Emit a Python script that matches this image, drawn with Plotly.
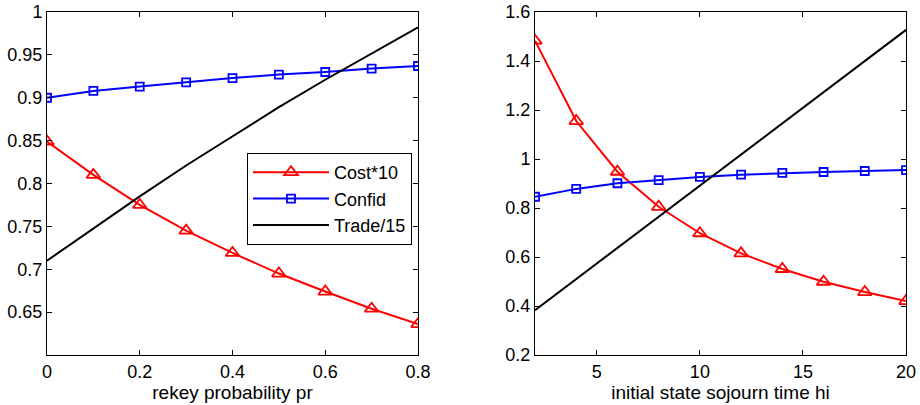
import plotly.graph_objects as go
from plotly.subplots import make_subplots

# Left panel: sweep over rekey probability
pr = [0, 0.1, 0.2, 0.3, 0.4, 0.5, 0.6, 0.7, 0.8]
cost_pr = [0.849, 0.810, 0.775, 0.745, 0.719, 0.695, 0.674, 0.654, 0.636]
confid_pr = [0.900, 0.908, 0.913, 0.918, 0.923, 0.927, 0.930, 0.934, 0.937]
trade_pr = [0.710, 0.748, 0.785, 0.821, 0.855, 0.889, 0.921, 0.952, 0.982]

# Right panel: sweep over initial state sojourn time
hi = [2, 4, 6, 8, 10, 12, 14, 16, 18, 20]
cost_hi = [1.483, 1.155, 0.948, 0.805, 0.697, 0.615, 0.551, 0.499, 0.457, 0.420]
confid_hi = [0.846, 0.878, 0.901, 0.914, 0.927, 0.936, 0.943, 0.947, 0.951, 0.955]
trade_hi = [0.383, 0.510, 0.637, 0.764, 0.891, 1.018, 1.146, 1.273, 1.400, 1.527]

left_xticks = [0, 0.2, 0.4, 0.6, 0.8]
left_xlabels = ["0", "0.2", "0.4", "0.6", "0.8"]
left_yticks = [0.65, 0.7, 0.75, 0.8, 0.85, 0.9, 0.95, 1.0]
left_ylabels = ["0.65", "0.7", "0.75", "0.8", "0.85", "0.9", "0.95", "1"]
right_xticks = [5, 10, 15, 20]
right_xlabels = ["5", "10", "15", "20"]
right_yticks = [0.2, 0.4, 0.6, 0.8, 1.0, 1.2, 1.4, 1.6]
right_ylabels = ["0.2", "0.4", "0.6", "0.8", "1", "1.2", "1.4", "1.6"]

RED = "#ff0000"
BLUE = "#0000ff"
FONT = "Liberation Sans, Arial, Helvetica, sans-serif"

fig = make_subplots(rows=1, cols=2)


def add_series(x, cost, confid, trade, col, show):
    fig.add_trace(go.Scatter(
        x=x, y=cost, name="Cost*10", mode="lines+markers",
        line=dict(color=RED, width=2),
        marker=dict(symbol="triangle-up-open", size=12, color=RED,
                    line=dict(color=RED, width=1.8)),
        showlegend=show, legendrank=1), row=1, col=col)
    fig.add_trace(go.Scatter(
        x=x, y=confid, name="Confid", mode="lines+markers",
        line=dict(color=BLUE, width=2),
        marker=dict(symbol="square-open", size=8, color=BLUE,
                    line=dict(color=BLUE, width=1.8)),
        showlegend=show, legendrank=2), row=1, col=col)
    fig.add_trace(go.Scatter(
        x=x, y=trade, name="Trade/15", mode="lines",
        line=dict(color="black", width=2),
        showlegend=show, legendrank=3), row=1, col=col)


add_series(pr, cost_pr, confid_pr, trade_pr, 1, True)
add_series(hi, cost_hi, confid_hi, trade_hi, 2, False)

axis_style = dict(
    showline=True, linecolor="black", linewidth=1, mirror="ticks",
    ticks="inside", ticklen=5, tickwidth=1, tickcolor="black",
    showgrid=False, zeroline=False, automargin=False,
    tickfont=dict(family=FONT, size=18, color="black"),
)

fig.update_xaxes(axis_style)
fig.update_yaxes(axis_style)

title_font = dict(family=FONT, size=19, color="black")

fig.update_xaxes(range=[0, 0.8], tickvals=left_xticks, ticktext=left_xlabels,
                 domain=[47 / 920, 418 / 920],
                 title=dict(text="rekey probability pr", standoff=1, font=title_font),
                 row=1, col=1)
fig.update_yaxes(range=[0.6, 1.0], tickvals=left_yticks, ticktext=left_ylabels,
                 domain=[50 / 405, 393 / 405], row=1, col=1)
fig.update_xaxes(range=[2, 20], tickvals=right_xticks, ticktext=right_xlabels,
                 domain=[535 / 920, 906 / 920],
                 title=dict(text="initial state sojourn time hi", standoff=1, font=title_font),
                 row=1, col=2)
fig.update_yaxes(range=[0.2, 1.6], tickvals=right_yticks, ticktext=right_ylabels,
                 domain=[50 / 405, 393 / 405], row=1, col=2)

fig.update_layout(
    width=920, height=405,
    margin=dict(l=0, r=0, t=0, b=0),
    paper_bgcolor="white", plot_bgcolor="white",
    font=dict(family=FONT, size=18, color="black"),
    legend=dict(
        x=412 / 920, y=(405 - 153) / 405, xanchor="right", yanchor="top",
        bgcolor="white", bordercolor="black", borderwidth=1,
        font=dict(family=FONT, size=18, color="black"),
        tracegroupgap=0, itemwidth=76,
    ),
)

fig.write_html("out.html")
